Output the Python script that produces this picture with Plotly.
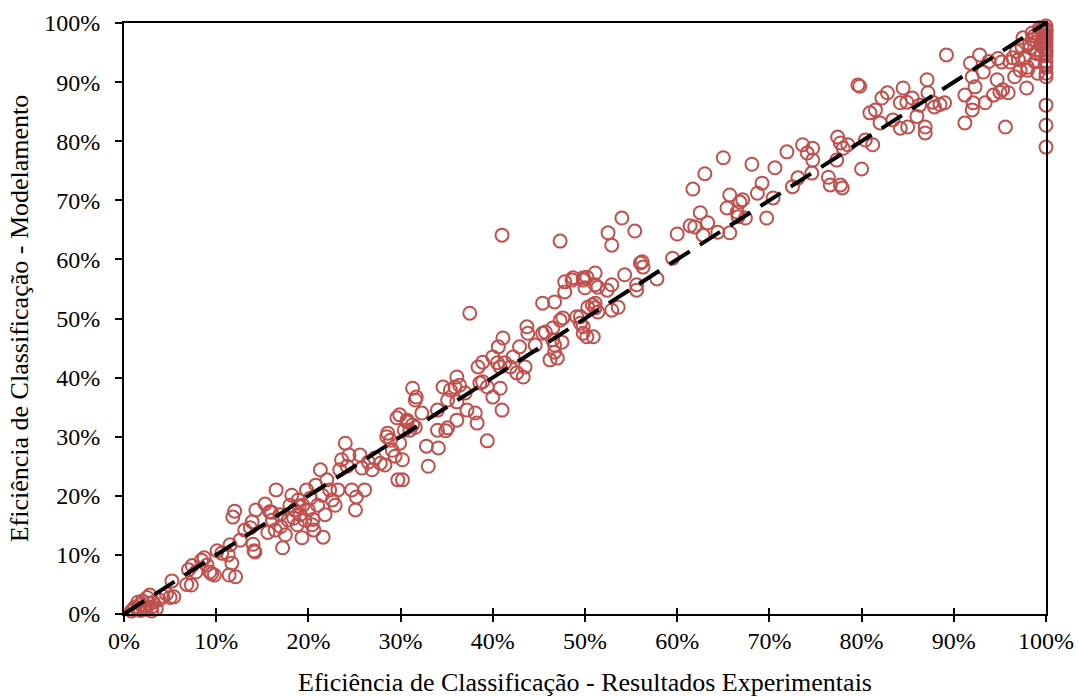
import plotly.graph_objects as go

# Experimental vs. modelled classification efficiency (%)
exp_pts = [
    # 0-10 %
    1.0, 1.2, 1.5, 1.8, 2.0, 2.2, 2.5, 2.7, 3.0, 3.2, 3.5, 3.8, 4.2, 4.6, 5.0, 5.2, 1.5, 2.4, 2.8, 0.8,
    1.8, 3.0, 5.4, 6.8, 7.0, 7.3, 7.4, 7.8, 8.4, 8.7, 9.0, 9.3, 9.5, 9.8, 10.1, 10.6,
    # 10-15 %
    11.3, 11.4, 11.5, 11.7, 11.8, 12.0, 12.1, 12.6, 13.1, 13.7, 14.0, 14.1, 14.2, 13.9, 14.3,
    # 15-25 %
    15.3, 15.8, 16.1, 16.5, 16.4, 16.9, 17.2, 17.5, 17.8, 18.0, 18.2, 18.5, 18.8, 18.9, 19.1,
    19.3, 19.4, 19.6, 19.8, 20.0, 20.2, 20.4, 20.6, 20.8, 21.0, 21.3, 21.5, 21.6, 21.8, 22.0,
    22.3, 22.6, 22.9, 23.2, 23.4, 23.6, 24.0, 24.2, 24.4, 24.7, 25.1, 25.2,
    17.0, 18.4, 19.0, 20.5, 16.0, 15.6,
    # 25-32 %
    25.6, 25.8, 26.1, 26.5, 26.9, 27.2, 27.8, 28.3, 28.5, 28.9, 29.1, 29.4, 29.6, 29.9, 29.7,
    30.2, 30.4, 30.7, 31.0, 31.3, 31.6, 31.6, 28.6,
    # 30-51 %
    31.7, 29.9, 30.7, 31.3, 32.3, 34.0, 34.6, 35.4, 36.1, 35.9, 36.4, 37.0, 35.1, 36.1, 37.2,
    38.1, 38.6, 38.9, 39.4, 40.0, 40.8, 41.0, 38.4, 38.9, 40.0, 40.5, 40.8, 41.3, 41.9, 41.1,
    40.6, 42.2, 42.6, 43.3, 43.5, 42.9, 43.7, 43.8, 45.4, 44.6, 46.2, 47.0, 46.7, 46.7, 47.5,
    47.3, 46.5, 45.4, 46.7, 47.8, 47.8, 48.6, 49.8, 50.0, 49.5, 49.8, 49.8, 50.2, 50.9, 50.8,
    51.1, 51.1, 37.5, 41.0, 47.3, 34.0, 35.1, 36.1, 38.3, 39.4, 33.0, 34.1, 34.9, 32.8, 30.2,
    # 45-71 %
    48.7, 49.8, 50.2, 51.1, 51.4, 52.4, 52.9, 54.3, 52.5, 52.9, 54.0, 55.4, 56.0, 56.3, 55.6,
    55.6, 57.8, 59.5, 60.0, 61.4, 61.9, 62.5, 62.8, 63.3, 61.7, 63.0, 64.4, 65.4, 65.7, 65.7,
    66.5, 66.8, 67.4, 66.6, 65.0, 68.1, 68.7, 69.2, 69.7, 70.6, 70.4, 45.7, 46.5, 47.6, 49.1,
    49.5, 50.3, 51.1, 51.4, 52.9, 53.6, 56.2, 67.1,
    # 71-88 %
    71.9, 72.5, 73.1, 73.6, 74.1, 74.7, 74.7, 74.6, 76.4, 76.6, 77.7, 77.9, 77.3, 77.4, 77.7,
    78.0, 78.5, 80.0, 80.4, 81.2, 79.6, 79.8, 80.9, 81.5, 82.0, 82.2, 82.8, 83.4, 84.2, 84.5,
    84.2, 84.9, 85.0, 85.5, 86.3, 86.9, 86.9, 87.1, 87.2, 87.7, 88.5, 89.0, 89.2, 87.9, 86.0,
    # 88-100 %
    91.2, 91.2, 92.1, 92.0, 92.3, 92.8, 91.8, 93.2, 93.4, 94.3, 94.7, 95.0, 95.3, 95.9, 95.6,
    95.2, 96.1, 96.4, 96.6, 97.2, 97.5, 97.7, 97.9, 98.0, 98.3, 98.5, 98.8, 99.0, 99.1, 99.3,
    99.5, 99.7, 99.9, 100.0, 100.0, 100.0, 100.0, 92.0, 93.8, 94.8, 96.8, 97.4,
    98.2, 98.6, 99.2, 99.6, 98.9, 99.4, 97.0, 98.0, 99.0, 99.8, 99.5, 98.7,
    100.0, 100.0, 100.0, 100.0, 100.0, 100.0, 100.0, 100.0, 100.0, 100.0, 100.0, 100.0, 100.0,
    100.0, 100.0, 100.0,
]

mod_pts = [
    # 0-10 %
    0.8, 1.2, 1.0, 1.6, 2.2, 1.2, 2.8, 1.8, 1.2, 2.0, 0.9, 2.4, 3.0, 3.4, 2.8, 5.6, 2.0, 0.8, 3.2, 0.5,
    0.6, 0.5, 2.9, 5.0, 7.5, 4.9, 8.2, 7.1, 9.1, 9.5, 8.3, 7.1, 6.8, 6.6, 10.7, 10.3,
    # 10-15 %
    10.0, 6.6, 11.7, 8.6, 16.4, 17.4, 6.3, 12.5, 14.2, 14.6, 11.8, 10.7, 10.5, 15.6, 17.6,
    # 15-25 %
    18.6, 17.3, 15.9, 21.0, 14.2, 16.8, 11.2, 13.4, 15.9, 18.4, 20.1, 17.6, 15.1, 19.3, 16.8,
    12.9, 18.4, 15.9, 21.0, 17.6, 19.6, 15.1, 14.2, 21.8, 18.4, 24.4, 20.1, 13.0, 16.8, 22.7,
    21.0, 19.3, 18.4, 21.0, 24.4, 26.1, 28.9, 25.0, 26.9, 21.0, 17.6, 19.8,
    14.8, 16.2, 18.2, 16.0, 17.2, 13.8,
    # 25-32 %
    26.9, 24.7, 21.0, 25.7, 24.4, 26.4, 25.5, 25.2, 30.0, 29.4, 27.7, 26.7, 33.2, 28.9, 22.7,
    26.1, 31.1, 32.5, 31.1, 38.2, 36.2, 31.6, 30.6,
    # 30-51 %
    36.7, 33.7, 32.8, 32.0, 34.0, 34.5, 38.4, 37.9, 40.1, 38.4, 38.7, 37.4, 36.2, 35.9, 34.5,
    34.0, 39.1, 39.3, 38.4, 36.7, 38.2, 34.5, 41.8, 42.6, 43.5, 42.5, 41.8, 42.5, 41.8, 46.7,
    45.2, 43.5, 40.8, 40.1, 41.8, 45.2, 48.6, 47.5, 47.5, 45.5, 43.0, 43.3, 44.3, 45.5, 46.0,
    49.7, 48.4, 52.6, 52.8, 54.5, 56.2, 56.5, 56.5, 55.2, 50.3, 48.6, 47.5, 46.9, 46.9, 52.3,
    51.8, 55.7, 50.9, 64.1, 63.1, 31.1, 31.5, 32.8, 32.3, 29.3, 25.0, 28.1, 31.0, 28.4, 22.7,
    # 45-71 %
    56.9, 56.9, 57.0, 57.7, 55.3, 54.8, 55.7, 57.4, 64.5, 62.4, 67.0, 64.8, 59.4, 58.7, 55.7,
    54.8, 56.7, 60.2, 64.3, 65.7, 65.5, 67.9, 64.1, 66.2, 71.9, 74.5, 64.6, 68.7, 70.9, 64.5,
    68.0, 69.7, 67.0, 67.2, 77.2, 76.1, 71.2, 72.9, 67.0, 75.5, 70.4, 47.7, 46.4, 50.1, 50.3,
    49.2, 51.9, 52.6, 51.1, 51.4, 51.9, 59.6, 70.1,
    # 71-88 %
    78.2, 72.3, 73.8, 79.4, 78.0, 78.8, 76.8, 74.6, 73.9, 72.6, 72.6, 72.1, 76.8, 80.7, 79.7,
    78.8, 79.4, 75.3, 80.2, 79.4, 89.5, 89.3, 84.8, 85.3, 83.1, 87.3, 88.2, 83.6, 82.2, 89.0,
    86.5, 86.6, 82.4, 87.3, 86.1, 82.4, 81.4, 90.4, 88.2, 86.6, 86.2, 86.5, 94.6, 85.8, 84.2,
    # 88-100 %
    87.8, 83.1, 86.5, 90.9, 89.2, 94.6, 93.2, 91.7, 86.5, 87.8, 90.4, 88.3, 88.7, 88.2, 82.4,
    93.4, 93.4, 94.1, 90.9, 92.0, 97.5, 94.2, 89.0, 92.0, 95.8, 98.3, 93.4, 96.8, 91.5, 99.2,
    94.6, 97.6, 92.9, 90.9, 86.1, 82.7, 79.0, 85.3, 93.5, 94.0, 95.2, 96.0,
    96.5, 97.2, 98.0, 98.8, 95.0, 96.2, 93.8, 92.5, 94.8, 96.9, 99.0, 97.8,
    99.5, 99.0, 98.5, 98.0, 97.5, 97.0, 96.5, 96.0, 95.5, 95.0, 94.5, 93.5, 92.5, 91.5,
    98.8, 97.8,
]

# 1:1 reference line endpoints
diag = [0, 100]

ticks = [0, 10, 20, 30, 40, 50, 60, 70, 80, 90, 100]
tick_text = ["0%", "10%", "20%", "30%", "40%", "50%", "60%", "70%", "80%", "90%", "100%"]

serif = "Liberation Serif"

fig = go.Figure()

fig.add_trace(go.Scatter(
    x=exp_pts, y=mod_pts, mode="markers",
    marker=dict(symbol="circle-open", size=13, color="#C0504D",
                line=dict(color="#C0504D", width=2)),
    cliponaxis=False, showlegend=False, hoverinfo="x+y",
))

fig.add_trace(go.Scatter(
    x=diag, y=diag, mode="lines",
    line=dict(color="black", width=4, dash="24px,12px"),
    showlegend=False, hoverinfo="skip",
))


def axis_style(ticklen, title, standoff, label_gap):
    return dict(
        range=[0, 100], tickmode="array", tickvals=ticks, ticktext=tick_text,
        showgrid=False, zeroline=False, automargin=False,
        showline=True, linecolor="black", linewidth=2, mirror=True,
        tickfont=dict(family=serif, size=24, color="black"),
        ticks="outside", ticklen=ticklen, tickcolor="black", tickwidth=1.5,
        ticklabelstandoff=label_gap,
        title=dict(text=title, font=dict(family=serif, size=26, color="black"),
                   standoff=standoff),
    )


fig.update_layout(
    width=1078, height=697,
    margin=dict(l=124, r=32, t=23, b=83),
    paper_bgcolor="white", plot_bgcolor="white",
    font=dict(family=serif, color="black"),
    xaxis=axis_style(6, "Eficiência de Classificação - Resultados Experimentais", 22, -2),
    yaxis=axis_style(7, "Eficiência de Classificação - Modelamento", 8, 10),
    # inner half of the crossing x ticks
    xaxis2=dict(overlaying="x", range=[0, 100], tickmode="array", tickvals=ticks,
                ticks="inside", ticklen=6, tickcolor="black", tickwidth=1.5,
                showticklabels=False, showgrid=False, zeroline=False,
                showline=False, anchor="y", side="bottom"),
)

# invisible trace so the second x axis is drawn
fig.add_trace(go.Scatter(x=[0], y=[0], xaxis="x2", mode="markers",
                         marker=dict(opacity=0), showlegend=False, hoverinfo="skip"))

fig.write_html("out.html")
